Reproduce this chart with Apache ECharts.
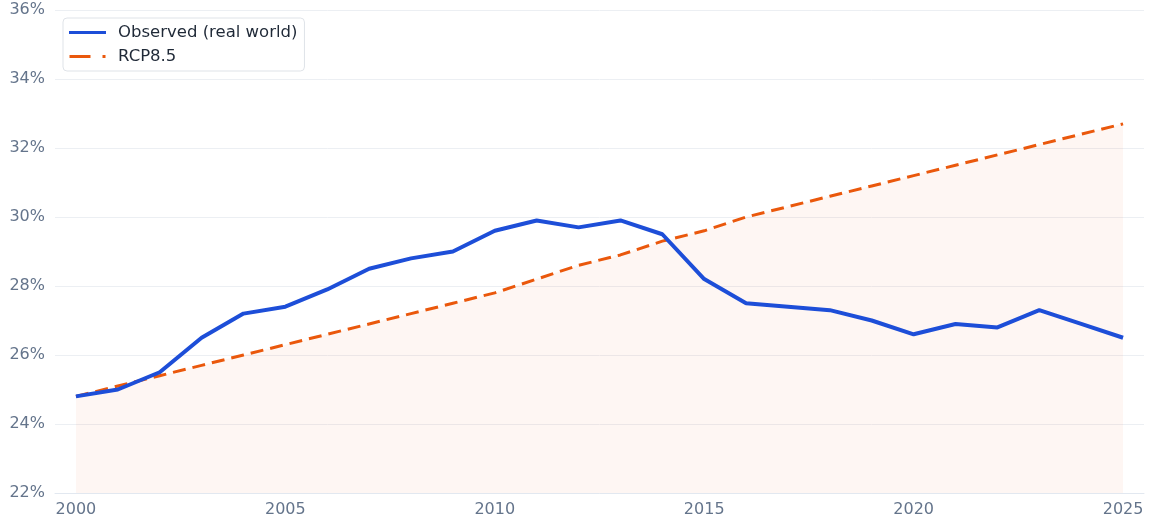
<!DOCTYPE html>
<html>
<head>
<meta charset="utf-8">
<script src="https://cdn.jsdelivr.net/npm/echarts@6/dist/echarts.min.js"></script>
<style>html,body{margin:0;padding:0;background:#fff}#c{width:1151px;height:523px}</style>
</head>
<body>
<div id="c"></div>
<script>
const years = ['2000','2001','2002','2003','2004','2005','2006','2007','2008','2009','2010','2011','2012','2013','2014','2015','2016','2017','2018','2019','2020','2021','2022','2023','2024','2025'];
const observed = [24.8,25.0,25.5,26.5,27.2,27.4,27.9,28.5,28.8,29.0,29.6,29.9,29.7,29.9,29.5,28.2,27.5,27.4,27.3,27.0,26.6,26.9,26.8,27.3,26.9,26.5];
const rcp85 = [24.8,25.1,25.4,25.7,26.0,26.3,26.6,26.9,27.2,27.5,27.8,28.2,28.6,28.9,29.3,29.6,30.0,30.3,30.6,30.9,31.2,31.5,31.8,32.1,32.4,32.7];
const seriesNames = ['Observed (real world)','RCP8.5'];

const chart = echarts.init(document.getElementById('c'), null, {renderer:'canvas'});
const font = 'DejaVu Sans';
chart.setOption({
  animation:false,
  grid:{left:55,right:7,top:10,bottom:30},
  legend:{
    orient:'vertical', left:63, top:18,
    data:[
      {name:seriesNames[0], icon:'path://M0,0h37v3h-37z'},
      {name:seriesNames[1], icon:'path://M0,0h21v3h-21z M33,0h3v3h-3z'}
    ],
    itemWidth:37, itemHeight:3, itemGap:7,
    padding:[6,7,6,6],
    backgroundColor:'#fff', borderColor:'#dfe3e8', borderWidth:1, borderRadius:4,
    textStyle:{fontFamily:font,fontSize:16.5,color:'#1f2937',padding:[0,0,0,7]}
  },
  xAxis:{
    type:'category', data:years, boundaryGap:true,
    axisLine:{show:true,lineStyle:{color:'#e2e8f0'}},
    axisTick:{show:false},
    axisLabel:{interval:4,fontFamily:font,fontSize:16,color:'#64748b',margin:9},
    splitLine:{show:false}
  },
  yAxis:{
    type:'value', min:22, max:36, interval:2,
    axisLine:{show:false}, axisTick:{show:false},
    axisLabel:{formatter:'{value}%',fontFamily:font,fontSize:16,color:'#64748b',margin:10},
    splitLine:{lineStyle:{color:'#eceff3',width:1}}
  },
  series:[
    {
      name:seriesNames[1], type:'line', data:rcp85, symbol:'none',
      lineStyle:{color:'#ea580c',width:3,type:[13,7]},
      itemStyle:{color:'#ea580c'},
      areaStyle:{color:'rgba(234,88,12,0.07)',origin:'start'},
      z:2
    },
    {
      name:seriesNames[0], type:'line', data:observed, symbol:'none',
      lineStyle:{color:'#1d4ed8',width:4},
      itemStyle:{color:'#1d4ed8'},
      z:3
    }
  ]
});
</script>
</body>
</html>
